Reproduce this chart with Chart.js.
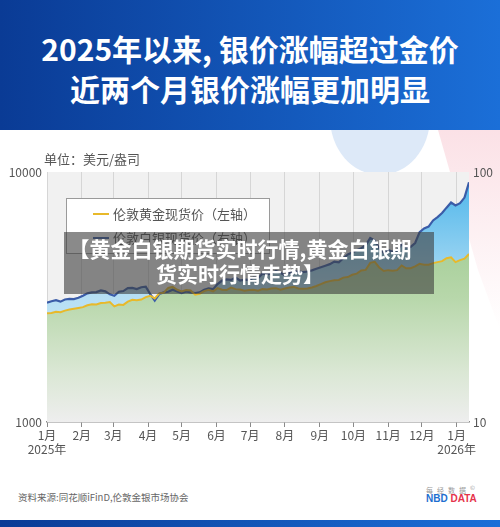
<!DOCTYPE html>
<html>
<head>
<meta charset="utf-8">
<script src="https://cdn.jsdelivr.net/npm/chart.js@4.4.1/dist/chart.umd.min.js"></script>
<style>
  body { margin: 0; width: 500px; height: 527px; overflow: hidden; background: #fff;
         font-family: "Noto Sans CJK SC", "Noto Sans", sans-serif; position: relative; }
  .deco-blue { position: absolute; left: 330px; top: 60px; width: 100px; height: 115px;
               border-radius: 50%; background: #dde9f8; }
  .deco-pink { position: absolute; left: 0; top: 130px; width: 500px; height: 200px;
               background: linear-gradient(180deg, #fbe1e6, rgba(255,255,255,0));
               clip-path: polygon(438px 0, 500px 0, 500px 200px, 478px 140px); }
  .header { position: absolute; left: 0; top: 0; width: 500px; height: 130px;
            background: linear-gradient(90deg, #0a3b95, #1b6fd8); }
  .title { position: absolute; left: 0; width: 500px; text-align: center; color: #fff;
           font-weight: bold; font-size: 30px; line-height: 40px; }
  .chartbox { position: absolute; left: 0; top: 140px; width: 500px; height: 330px; }
  .unit { position: absolute; left: 44px; top: 149px; font-size: 13px; color: #555; }
  .legend { position: absolute; left: 66px; top: 198px; width: 202px; height: 54px;
            background: #fff; border: 1px solid #9a9a9a; font-size: 13px; color: #555; }
  .legend div { position: absolute; left: 46px; white-space: nowrap; }
  .legend span { position: absolute; left: -20px; top: 9px; width: 16px; height: 2px; }
  .overlay { position: absolute; left: 64px; top: 232px; width: 370px; height: 62px;
             background: rgba(60,60,60,0.6); color: #fff; font-weight: bold; font-size: 21px;
             line-height: 25px; text-align: center; }
  .overlay p { margin: 0; position: relative; left: -9px; top: 4px; white-space: nowrap; }
  .source { position: absolute; left: 18px; top: 490px; font-size: 9.5px; color: #666; }
  .logo1 { position: absolute; left: 426px; top: 483px; font-size: 7px; color: #999; letter-spacing: 4px; }
  .logo2 { position: absolute; left: 426px; top: 493px; font-size: 10px; font-weight: bold; font-family: "Liberation Sans", sans-serif; }
  .footer { position: absolute; left: 0; top: 520px; width: 500px; height: 7px;
            background: linear-gradient(90deg, #0a3b95, #1b6fd8); }
</style>
</head>
<body>
<div class="deco-blue"></div>
<div class="deco-pink"></div>
<div class="header">
  <div class="title" style="top:28px">2025年以来, 银价涨幅超过金价</div>
  <div class="title" style="top:68px">近两个月银价涨幅更加明显</div>
</div>
<div class="chartbox"><canvas id="chart"></canvas></div>
<div class="unit">单位：美元/盎司</div>
<div class="legend">
  <div style="top:5px"><span style="background:#e8b92a"></span>伦敦黄金现货价（左轴）</div>
  <div style="top:29px"><span style="background:#3a5ca8"></span>伦敦白银现货价（右轴）</div>
</div>
<div class="overlay"><p>【黄金白银期货实时行情,黄金白银期<br>货实时行情走势】</p></div>
<div class="source">资料来源:同花顺iFinD,伦敦金银市场协会</div>
<div class="logo1">每经数据<sup style="font-size:6px">©</sup></div>
<div class="logo2"><span style="color:#1e6fd0">NBD</span> <span style="color:#e5334b">DATA</span></div>
<div class="footer"></div>

<script>
// days since 2025-01-01, sampled every 4 days
const startDay = 0;
const stepDays = 4;
const lastDay = 376;

// 伦敦黄金现货价 (USD/oz, left axis)
const gold = [
  2720, 2730, 2760, 2750, 2790, 2820, 2840, 2860, 2880, 2930,
  2960, 2950, 2990, 3000, 3020, 2900, 2950, 2940, 3030, 3080,
  3070, 3090, 3160, 3200, 3120, 3270, 3290, 3440, 3470, 3380,
  3330, 3370, 3360, 3230, 3260, 3340, 3380, 3330, 3430, 3380,
  3370, 3450, 3400, 3390, 3350, 3370, 3380, 3350, 3400, 3390,
  3420, 3430, 3380, 3420, 3450, 3470, 3420, 3410, 3420, 3450,
  3500, 3560, 3620, 3660, 3690, 3700, 3780, 3800, 3880, 3920,
  4040, 4060, 4330, 4370, 4150, 4020, 4050, 4030, 4050, 4230,
  4120, 4120, 4190, 4290, 4260, 4260, 4320, 4360, 4400, 4520,
  4560, 4360, 4440, 4500, 4700
];

// 伦敦白银现货价 (USD/oz, right axis)
const silver = [
  30.0, 30.4, 30.7, 30.3, 30.9, 31.1, 31.0, 31.4, 32.0, 32.7,
  33.0, 33.1, 33.6, 33.3, 32.4, 32.0, 33.2, 33.4, 34.3, 34.4,
  34.0, 34.6, 34.8, 32.5, 30.6, 32.5, 33.0, 33.2, 33.8, 33.3,
  32.8, 33.3, 33.0, 32.8, 33.0, 33.8, 34.2, 34.0, 35.6, 36.8,
  37.2, 37.0, 37.8, 36.8, 37.1, 37.0, 37.8, 37.6, 39.2, 38.9,
  39.4, 40.2, 39.5, 38.6, 39.5, 40.0, 40.0, 39.8, 40.0, 40.4,
  41.0, 41.6, 42.2, 42.8, 43.8, 43.5, 45.2, 46.8, 47.6, 48.6,
  49.6, 51.0, 54.5, 53.2, 49.5, 47.5, 48.8, 48.0, 48.5, 51.5,
  50.0, 50.2, 52.0, 57.5, 59.5, 60.5, 64.0, 66.0, 68.5, 72.0,
  75.5, 73.5, 75.0, 79.0, 91.0
];

// month starts (day offsets) and their labels
const monthDays = [0, 31, 59, 90, 120, 151, 181, 212, 243, 273, 304, 334, 365];
const monthLabels = ['1月', '2月', '3月', '4月', '5月', '6月', '7月', '8月', '9月', '10月', '11月', '12月', '1月'];
const yearLabels = { 0: '2025年', 12: '2026年' };
const leftTicks = [1000, 10000];
const rightTicks = [10, 100];

const goldPoints = gold.map((v, i) => ({ x: startDay + i * stepDays, y: v }));
const silverPoints = silver.map((v, i) => ({ x: startDay + i * stepDays, y: v }));

function vGradient(ctx, area, stops) {
    const g = ctx.createLinearGradient(0, area.top, 0, area.bottom);
    stops.forEach(s => g.addColorStop(s[0], s[1]));
    return g;
}

// light grey panel behind the plot
const plotBg = {
    id: 'plotBg',
    beforeDraw(chart) {
        const { ctx, chartArea } = chart;
        if (!chartArea) return;
        ctx.save();
        ctx.fillStyle = '#f1f1f1';
        ctx.fillRect(chartArea.left, chartArea.top, chartArea.right - chartArea.left, chartArea.bottom - chartArea.top);
        ctx.restore();
    }
};

const tickFont = { family: '"Noto Sans CJK SC", sans-serif', size: 12 };

new Chart(document.getElementById('chart'), {
    type: 'line',
    data: {
        datasets: [{
            label: '伦敦黄金现货价（左轴）',
            data: goldPoints,
            yAxisID: 'y',
            borderColor: '#e8b92a',
            borderWidth: 2,
            pointRadius: 0,
            tension: 0,
            fill: 'start',
            backgroundColor: (c) => c.chart.chartArea
                ? vGradient(c.chart.ctx, c.chart.chartArea, [[0, '#8fc381'], [0.5, '#b7d7aa'], [0.8, '#dae7d4'], [1, '#eeeeee']])
                : '#b7d7aa'
        }, {
            label: '伦敦白银现货价（右轴）',
            data: silverPoints,
            yAxisID: 'y1',
            borderColor: '#3a5ca8',
            borderWidth: 2.2,
            pointRadius: 0,
            tension: 0,
            fill: 'start',
            backgroundColor: (c) => c.chart.chartArea
                ? vGradient(c.chart.ctx, c.chart.chartArea, [[0, '#47b3ea'], [0.5, '#b6dff4'], [1, '#e2f1f9']])
                : '#b6dff4'
        }]
    },
    options: {
        responsive: true,
        maintainAspectRatio: false,
        animation: false,
        layout: { padding: { top: 32, left: 0, right: 0, bottom: 0 } },
        plugins: {
            legend: { display: false },
            tooltip: { enabled: false },
            filler: { drawTime: 'beforeDatasetsDraw' }
        },
        scales: {
            x: {
                type: 'linear',
                min: startDay,
                max: lastDay,
                afterBuildTicks: (s) => { s.ticks = monthDays.map(v => ({ value: v })); },
                afterFit: (s) => { s.height = 48; },
                grid: { color: '#d6d6d6', tickColor: '#8a8a8a', tickLength: 5, lineWidth: 1 },
                border: { display: true, color: '#8a8a8a', width: 1.5 },
                ticks: {
                    color: '#555',
                    font: tickFont,
                    padding: 1,
                    maxRotation: 0,
                    autoSkip: false,
                    callback: (v, i) => yearLabels[i] ? [monthLabels[i], yearLabels[i]] : monthLabels[i]
                }
            },
            y: {
                type: 'logarithmic',
                position: 'left',
                min: 1000,
                max: 10000,
                afterBuildTicks: (s) => { s.ticks = leftTicks.map(v => ({ value: v })); },
                afterFit: (s) => { s.width = 47; },
                grid: { display: false, drawTicks: false },
                border: { display: false },
                ticks: { color: '#555', font: tickFont, padding: 5, callback: (v) => String(v) }
            },
            y1: {
                type: 'logarithmic',
                position: 'right',
                min: 10,
                max: 100,
                afterBuildTicks: (s) => { s.ticks = rightTicks.map(v => ({ value: v })); },
                afterFit: (s) => { s.width = 31; },
                grid: { display: false, drawTicks: false },
                border: { display: false },
                ticks: { color: '#555', font: tickFont, padding: 4, callback: (v) => String(v) }
            }
        }
    },
    plugins: [plotBg]
});
</script>
</body>
</html>
